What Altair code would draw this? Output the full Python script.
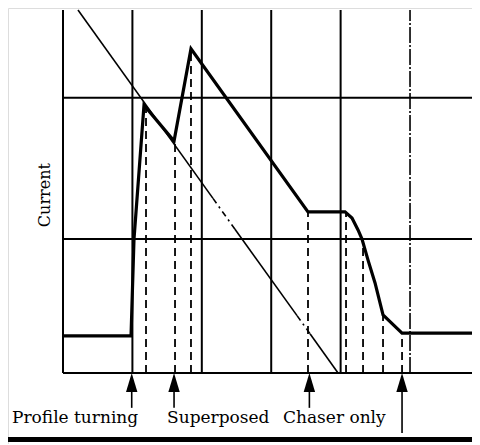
import altair as alt
import pandas as pd

# ---------------- data (x: grid divisions, y: current in % of full height) -------------
grid_x_solid = [0, 1, 2, 3, 4]
grid_x_dashdot = [5]
grid_top = 100
grid_y = [36.9, 75.8]
grid_right = 5.94
axis_right = 7.0

# thick current profile
profile_x = [0.0, 0.98, 1.023, 1.167, 1.60, 1.844, 3.53, 4.063, 4.164, 4.251, 4.308,
             4.395, 4.496, 4.611, 4.885, 6.2]
profile_y = [10.2, 10.2, 36.9, 73.8, 63.9, 89.3, 44.4, 44.4, 42.7, 39.4, 36.9,
             31.1, 24.8, 16.0, 11.0, 11.0]

# thin falling line (segments, some drawn broken)
chase_x1 = [0.216, 2.161, 2.478, 3.372, 3.559]
chase_y1 = [100.0, 48.1, 39.6, 15.8, 10.8]
chase_x2 = [2.161, 2.478, 3.372, 3.559, 3.963]
chase_y2 = [48.1, 39.6, 15.8, 10.8, 0.0]
chase_kind = ["solid", "broken", "solid", "broken", "solid"]

# dashed drop lines
drop_x = [1.196, 1.614, 1.844, 3.53, 4.078, 4.323, 4.611, 4.885]
drop_top = [73.1, 63.9, 89.0, 44.4, 44.4, 35.0, 16.0, 11.0]

# arrows under the axis
arrow_x = [0.99, 1.60, 3.55, 4.885]
arrow_tail = [-9.6, -9.6, -9.6, -16.5]
arrow_head_y = -2.6
arrow_shaft_top = -4.5

# labels
labels = ["Profile turning", "Superposed", "Chaser only"]
label_x = [-0.735, 1.499, 3.17]
label_y = -13.8

axis_label = "Current"
axis_label_x = -0.26
axis_label_y = 49.0

bar_y = -18.33

# ---------------- scales ----------------
W, H = 464, 436
XS = alt.Scale(domain=[-0.7925, 5.893], nice=False, zero=False)
YS = alt.Scale(domain=[-19.56, 100.55], nice=False, zero=False)


def X(f="x"):
    return alt.X(f"{f}:Q", scale=XS, axis=None)


def Y(f="y"):
    return alt.Y(f"{f}:Q", scale=YS, axis=None)


vgrid = pd.DataFrame({"x": grid_x_solid, "y": [0] * len(grid_x_solid),
                      "y2": [grid_top] * len(grid_x_solid)})
vdash = pd.DataFrame({"x": grid_x_dashdot, "y": [0] * len(grid_x_dashdot),
                      "y2": [grid_top] * len(grid_x_dashdot)})
hgrid = pd.DataFrame({"y": grid_y, "x": [0] * len(grid_y), "x2": [grid_right] * len(grid_y)})
base_axis = pd.DataFrame({"y": [0], "x": [0], "x2": [axis_right]})
prof = pd.DataFrame({"x": profile_x, "y": profile_y, "i": list(range(len(profile_x)))})
chase = pd.DataFrame({"x": chase_x1, "y": chase_y1, "x2": chase_x2, "y2": chase_y2,
                      "kind": chase_kind})
drops = pd.DataFrame({"x": drop_x, "y": [0] * len(drop_x), "y2": drop_top})
arrows = pd.DataFrame({"x": arrow_x, "y": [arrow_shaft_top] * len(arrow_x),
                       "y2": arrow_tail, "h": [arrow_head_y] * len(arrow_x)})
labs = pd.DataFrame({"x": label_x, "y": [label_y] * len(label_x), "t": labels})
ylab = pd.DataFrame({"x": [axis_label_x], "y": [axis_label_y], "t": [axis_label]})
bar = pd.DataFrame({"y": [bar_y], "x": [-2], "x2": [8]})

k = "#000000"

l_vgrid = alt.Chart(vgrid).mark_rule(color=k, strokeWidth=2).encode(x=X(), y=Y(), y2="y2:Q")
l_vdash = alt.Chart(vdash).mark_rule(color=k, strokeWidth=1.6, strokeDash=[16, 2, 2, 2]).encode(
    x=X(), y=Y(), y2="y2:Q")
l_hgrid = alt.Chart(hgrid).mark_rule(color=k, strokeWidth=2).encode(y=Y(), x=X(), x2="x2:Q")
l_axis = alt.Chart(base_axis).mark_rule(color=k, strokeWidth=2.2).encode(y=Y(), x=X(), x2="x2:Q")
l_chase_solid = alt.Chart(chase).transform_filter(alt.datum.kind == "solid").mark_rule(
    color=k, strokeWidth=1.6).encode(x=X(), y=Y(), x2="x2:Q", y2="y2:Q")
l_chase_broken = alt.Chart(chase).transform_filter(alt.datum.kind == "broken").mark_rule(
    color=k, strokeWidth=1.6, strokeDash=[6, 4, 2, 4]).encode(x=X(), y=Y(), x2="x2:Q", y2="y2:Q")
l_drops = alt.Chart(drops).mark_rule(color=k, strokeWidth=1.8, strokeDash=[8, 5]).encode(
    x=X(), y=Y(), y2="y2:Q")
l_prof = alt.Chart(prof).mark_line(color=k, strokeWidth=3.2, strokeJoin="miter").encode(
    x=X(), y=Y(), order="i:Q")
l_shaft = alt.Chart(arrows).mark_rule(color=k, strokeWidth=1.6).encode(x=X(), y=Y(), y2="y2:Q")
l_head = alt.Chart(arrows).mark_point(
    shape="M0,-1L0.6,1L-0.6,1Z", filled=True, color=k, opacity=1, size=361, strokeWidth=0
).encode(x=X(), y=Y("h"))
l_labs = alt.Chart(labs).mark_text(font="DejaVu Serif", fontSize=17, align="left",
                                   baseline="alphabetic", color=k).encode(x=X(), y=Y(), text="t:N")
l_ylab = alt.Chart(ylab).mark_text(font="DejaVu Serif", fontSize=16, align="center",
                                   baseline="middle", angle=270, color=k).encode(
    x=X(), y=Y(), text="t:N")
l_bar = alt.Chart(bar).mark_rule(color=k, strokeWidth=5).encode(y=Y(), x=X(), x2="x2:Q")

chart = alt.layer(
    l_vgrid, l_vdash, l_hgrid, l_axis, l_chase_solid, l_chase_broken, l_drops, l_prof,
    l_shaft, l_head, l_labs, l_ylab, l_bar
).properties(
    width=W, height=H, autosize=alt.AutoSizeParams(type="none"), padding=0
).configure_view(stroke=None).configure(background="white")

chart.save("out.html", embed_options={"renderer": "svg", "actions": False})
